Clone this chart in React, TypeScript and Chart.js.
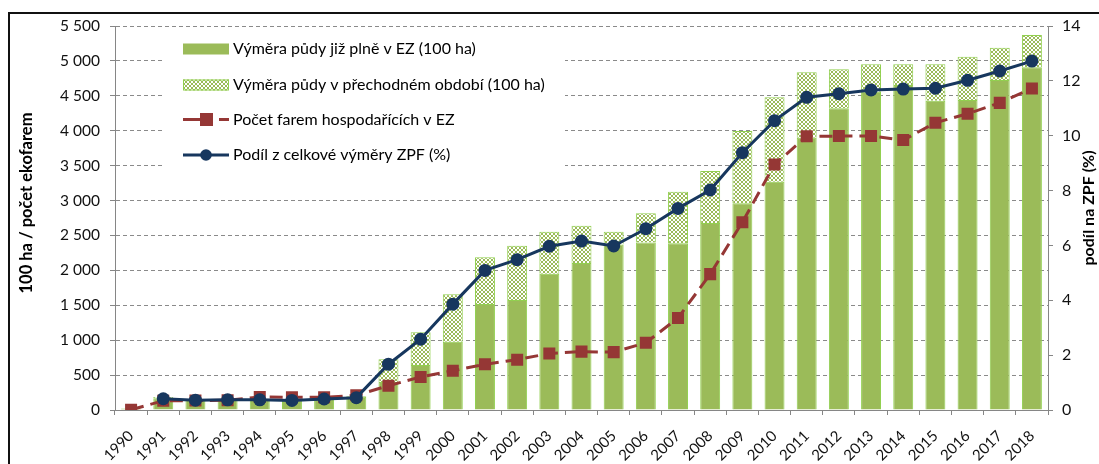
import React, { useEffect, useRef } from 'react';
import { Chart, registerables } from 'chart.js';

Chart.register(...registerables);

const years = [
  '1990', '1991', '1992', '1993', '1994', '1995', '1996', '1997', '1998', '1999',
  '2000', '2001', '2002', '2003', '2004', '2005', '2006', '2007', '2008', '2009',
  '2010', '2011', '2012', '2013', '2014', '2015', '2016', '2017', '2018',
];

// Výměra půdy již plně v EZ (100 ha)
const fullArea = [
  20, 170, 145, 150, 150, 140, 160, 190, 400, 645,
  978, 1518, 1576, 1950, 2105, 2370, 2400, 2390, 2680, 2962,
  3270, 3900, 4321, 4560, 4655, 4430, 4440, 4727, 4910,
];

// Výměra půdy v přechodném období (100 ha)
const transitionArea = [
  0, 15, 10, 7, 8, 10, 10, 12, 326, 468,
  679, 669, 778, 604, 535, 184, 417, 737, 743, 1034,
  1209, 937, 559, 391, 296, 521, 620, 463, 461,
];

// Počet farem hospodařících v EZ
const farms = [
  3, 132, 135, 141, 187, 181, 182, 211, 348, 473,
  563, 654, 721, 810, 836, 829, 963, 1318, 1946, 2689,
  3517, 3920, 3923, 3926, 3866, 4115, 4243, 4399, 4606,
];

// Podíl z celkové výměry ZPF (%)
const sharePct = [
  null, 0.41, 0.36, 0.37, 0.37, 0.35, 0.40, 0.45, 1.67, 2.58,
  3.86, 5.09, 5.48, 5.97, 6.16, 5.98, 6.61, 7.35, 8.02, 9.38,
  10.55, 11.40, 11.53, 11.67, 11.70, 11.73, 12.02, 12.36, 12.72,
];

const legendLabels = [
  'Výměra půdy již plně v EZ (100 ha)',
  'Výměra půdy v přechodném období (100 ha)',
  'Počet farem hospodařících v EZ',
  'Podíl z celkové výměry ZPF (%)',
];

const leftTitle = '100 ha / počet ekofarem';
const rightTitle = 'podíl na ZPF (%)';

const GREEN = '#9BBB59';
const GREEN_EDGE = '#92D050';
const RED = '#953735';
const BLUE = '#17375E';
const GRID = '#8a8a8a';
const AXIS = '#868686';
const FONT = 'Lato';

function makeHatch(): CanvasPattern | string {
  const c = document.createElement('canvas');
  c.width = 4;
  c.height = 4;
  const g = c.getContext('2d');
  if (!g) return GREEN;
  g.fillStyle = GREEN;
  g.fillRect(0, 0, 4, 4);
  g.fillStyle = '#ffffff';
  g.fillRect(1, 0, 2, 1);
  g.fillRect(0, 1, 1, 2);
  g.fillRect(3, 1, 1, 2);
  g.fillRect(1, 3, 2, 1);
  const p = g.createPattern(c, 'repeat');
  return p || GREEN;
}

export default function App() {
  const ref = useRef<HTMLCanvasElement | null>(null);

  useEffect(() => {
    const canvas = ref.current;
    if (!canvas) return;
    const hatch = makeHatch();

    const decor = {
      id: 'decor',
      beforeDraw(chart: any) {
        const ctx = chart.ctx;
        ctx.save();
        ctx.fillStyle = '#ffffff';
        ctx.fillRect(0, 0, chart.width, chart.height);
        ctx.restore();
      },
      afterDraw(chart: any) {
        const ctx = chart.ctx as CanvasRenderingContext2D;
        ctx.save();
        // frame
        ctx.fillStyle = '#111111';
        ctx.fillRect(8, 12, chart.width - 8, 2);
        ctx.fillRect(8, 12, 2, chart.height - 12);

        // axis titles
        ctx.fillStyle = '#000000';
        ctx.textAlign = 'center';
        ctx.textBaseline = 'middle';
        ctx.save();
        ctx.font = `bold 16.5px ${FONT}`;
        ctx.translate(27, 203);
        ctx.rotate(-Math.PI / 2);
        ctx.fillText(leftTitle, 0, 0);
        ctx.restore();
        ctx.save();
        ctx.font = `bold 16px ${FONT}`;
        ctx.translate(1089, 208);
        ctx.rotate(-Math.PI / 2);
        ctx.fillText(rightTitle, 0, 0);
        ctx.restore();

        // legend
        ctx.fillStyle = '#ffffff';
        ctx.fillRect(165, 33, 400, 147);
        const rows = [49, 85, 119.5, 155];
        const sx = 183;
        const sw = 46;
        // row 0
        ctx.fillStyle = GREEN;
        ctx.fillRect(sx, rows[0] - 5.5, sw, 11);
        // row 1
        ctx.fillStyle = hatch as any;
        ctx.fillRect(sx, rows[1] - 5.5, sw, 11);
        ctx.strokeStyle = GREEN_EDGE;
        ctx.lineWidth = 1;
        ctx.strokeRect(sx + 0.5, rows[1] - 5, sw - 1, 10);
        // row 2
        ctx.strokeStyle = RED;
        ctx.lineWidth = 3;
        ctx.beginPath();
        ctx.moveTo(sx, rows[2]);
        ctx.lineTo(200, rows[2]);
        ctx.moveTo(219, rows[2]);
        ctx.lineTo(sx + sw, rows[2]);
        ctx.stroke();
        ctx.fillStyle = RED;
        ctx.fillRect(200, rows[2] - 6.5, 13, 13);
        // row 3
        ctx.strokeStyle = BLUE;
        ctx.beginPath();
        ctx.moveTo(sx, rows[3]);
        ctx.lineTo(sx + sw, rows[3]);
        ctx.stroke();
        ctx.fillStyle = BLUE;
        ctx.beginPath();
        ctx.arc(206, rows[3], 5.8, 0, Math.PI * 2);
        ctx.fill();

        ctx.fillStyle = '#000000';
        ctx.font = `16px ${FONT}`;
        ctx.textAlign = 'left';
        ctx.textBaseline = 'middle';
        legendLabels.forEach((t, i) => ctx.fillText(t, 233, rows[i]));
        ctx.restore();
      },
    };

    const fmt = (v: any) => {
      const n = Number(v);
      if (n >= 1000) {
        return `${Math.floor(n / 1000)} ${String(n % 1000).padStart(3, '0')}`;
      }
      return String(n);
    };

    const chart = new Chart(canvas, {
      data: {
        labels: years,
        datasets: [
          {
            type: 'line',
            label: legendLabels[3],
            data: sharePct as any,
            yAxisID: 'y1',
            borderColor: BLUE,
            backgroundColor: BLUE,
            borderWidth: 3,
            pointStyle: 'circle',
            pointRadius: 6.5,
            pointBackgroundColor: BLUE,
            pointBorderColor: BLUE,
            pointBorderWidth: 0,
            tension: 0,
            fill: false,
            order: 1,
          },
          {
            type: 'line',
            label: legendLabels[2],
            data: farms,
            yAxisID: 'y',
            stack: 'farms',
            borderColor: RED,
            backgroundColor: RED,
            borderWidth: 3,
            borderDash: [13, 7],
            pointStyle: 'rect',
            pointRadius: 8.5,
            pointBackgroundColor: RED,
            pointBorderColor: RED,
            pointBorderWidth: 0,
            tension: 0,
            fill: false,
            order: 2,
          },
          {
            type: 'bar',
            label: legendLabels[0],
            data: fullArea,
            yAxisID: 'y',
            stack: 'area',
            backgroundColor: GREEN,
            borderColor: GREEN_EDGE,
            borderWidth: 1,
            barPercentage: 0.62,
            categoryPercentage: 1,
            order: 3,
          },
          {
            type: 'bar',
            label: legendLabels[1],
            data: transitionArea,
            yAxisID: 'y',
            stack: 'area',
            backgroundColor: hatch as any,
            borderColor: GREEN_EDGE,
            borderWidth: 1,
            barPercentage: 0.62,
            categoryPercentage: 1,
            order: 3,
          },
        ],
      },
      options: {
        responsive: false,
        animation: false,
        events: [],
        layout: { padding: { top: 26, left: 0, right: 0, bottom: 0 } },
        plugins: {
          legend: { display: false },
          tooltip: { enabled: false },
          title: { display: false },
        },
        scales: {
          x: {
            type: 'category',
            stacked: true,
            offset: true,
            afterFit: (s: any) => { s.height = 54; },
            grid: {
              display: true,
              offset: true,
              drawOnChartArea: false,
              drawTicks: true,
              tickLength: 5,
              color: AXIS,
              tickColor: AXIS,
            },
            border: { display: true, color: AXIS, width: 1 },
            ticks: {
              autoSkip: false,
              maxRotation: 45,
              minRotation: 45,
              padding: 12,
              color: '#111111',
              font: { family: FONT, size: 15 },
            },
          },
          y: {
            type: 'linear',
            position: 'left',
            stacked: true,
            min: 0,
            max: 5500,
            afterFit: (s: any) => { s.width = 115; },
            grid: {
              display: true,
              drawOnChartArea: true,
              drawTicks: true,
              tickLength: 5,
              color: GRID,
              tickColor: AXIS,
              lineWidth: 1,
            },
            border: { display: true, color: AXIS, width: 1, dash: [4, 3] },
            ticks: {
              stepSize: 500,
              padding: 10,
              color: '#111111',
              font: { family: FONT, size: 15.5 },
              callback: fmt,
            },
          },
          y1: {
            type: 'linear',
            position: 'right',
            min: 0,
            max: 14,
            afterFit: (s: any) => { s.width = 51; },
            grid: {
              display: true,
              drawOnChartArea: false,
              drawTicks: true,
              tickLength: 5,
              color: AXIS,
              tickColor: AXIS,
            },
            border: { display: true, color: AXIS, width: 1 },
            ticks: {
              stepSize: 2,
              padding: 9,
              color: '#111111',
              font: { family: FONT, size: 16 },
            },
          },
        },
      } as any,
      plugins: [decor],
    });

    return () => chart.destroy();
  }, []);

  return (
    <div style={{ position: 'absolute', left: 0, top: 0, width: 1099, height: 464, background: '#fff' }}>
      <canvas ref={ref} width={1099} height={464} style={{ display: 'block', width: 1099, height: 464 }} />
    </div>
  );
}
